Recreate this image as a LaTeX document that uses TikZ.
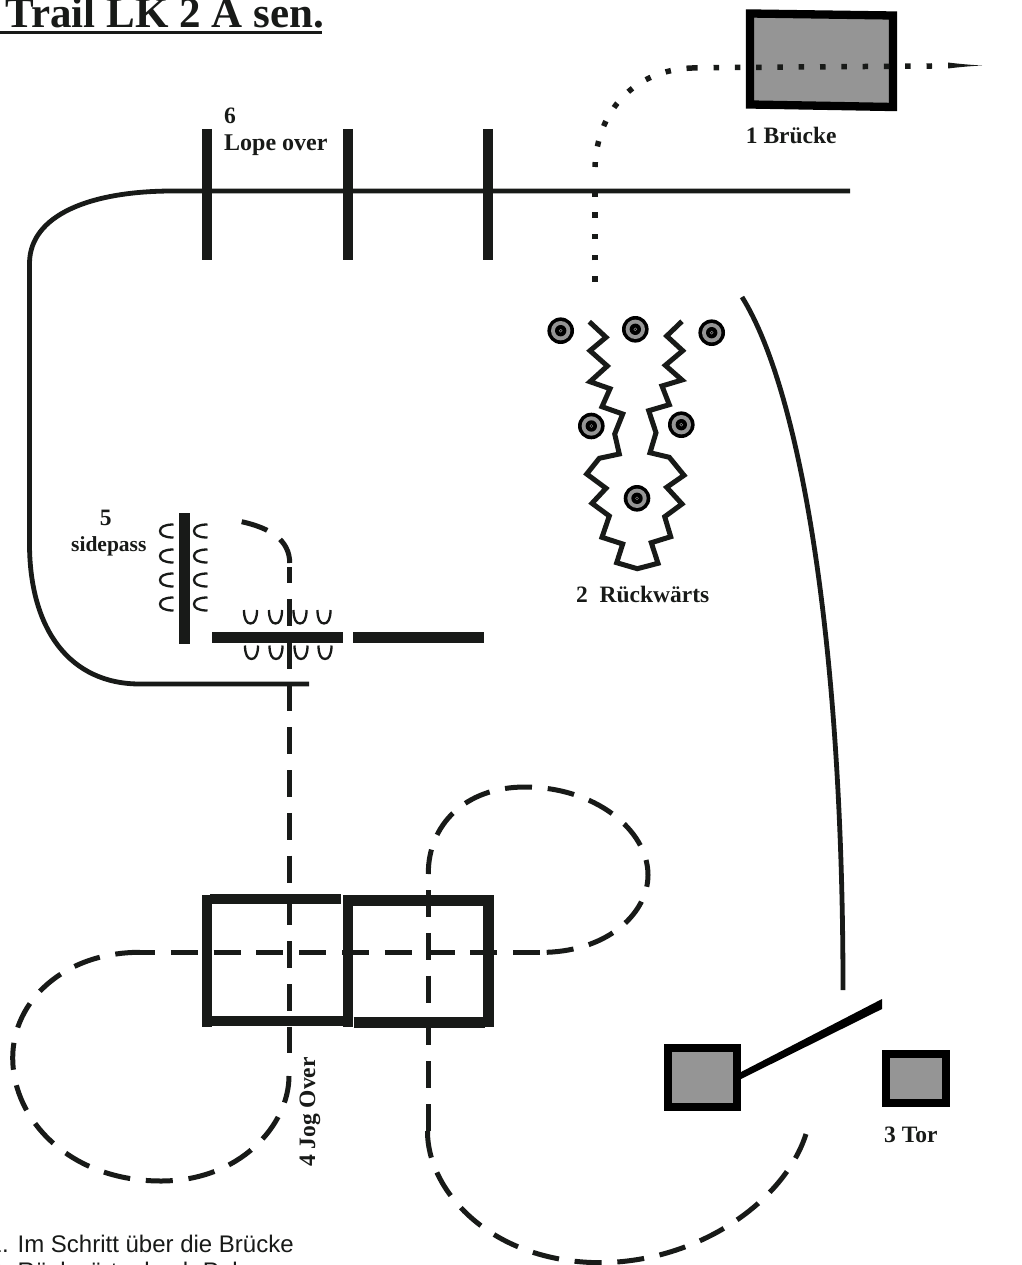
\documentclass[tikz,border=0pt]{standalone}
\usepackage{fontspec}
\setmainfont{Liberation Serif}
\newfontfamily\notefont{Liberation Sans}
\usetikzlibrary{positioning}
\definecolor{trackblack}{HTML}{181A18}
\definecolor{boxgray}{HTML}{959595}
\tikzset{
  lbl/.style={inner sep=0pt, anchor=base west, text=trackblack, font=\fontsize{23.5}{26}\selectfont\bfseries},
  note/.style={inner sep=0pt, anchor=base west, text=trackblack, font=\fontsize{24}{27}\selectfont\notefont},
  pole/.style={line width=10.5pt, trackblack},
  track/.style={line width=4.8pt, trackblack},
  walkdash/.style={line width=5pt, trackblack, dash pattern=on 27pt off 15.8pt},
  walkdot/.style={line width=5.5pt, trackblack, dash pattern=on 5.5pt off 15.8pt},
  hoof/.style={line width=2.3pt, trackblack},
  obstacle/.style={line width=8pt, draw=black, fill=boxgray},
  zigzag/.style={line width=5pt, trackblack, miter limit=10}
}
\newcommand{\hoofshape}{(-6.5,-7) .. controls (-6.5,2) and (-4,6.5) .. (0,6.5) .. controls (4,6.5) and (6.5,2) .. (6.5,-7)}
\begin{document}
\begin{tikzpicture}[x=1pt, y=-1pt]
  \useasboundingbox (0,0) rectangle (1021,1265);
  % title
  \node[lbl, font=\fontsize{43}{46}\selectfont\bfseries] (title) at (5.5,27.3) {Trail LK 2 A sen.};
  \draw[line width=3pt, trackblack] (0,32.3) -- (322,32.3);
  % arena line
  \draw[track] (850,191) -- (173,191) .. controls (90,191) and (30,215) .. (29.5,263) -- (29.5,545) .. controls (30,630) and (70,684) .. (140,684) -- (309,684);
  \draw[track] (742,297) .. controls (800,390) and (843,640) .. (843,990);
  % 1 bridge
  \draw[obstacle, line width=8.3pt] (750,13.5) -- (893,15.5) -- (893,107) -- (750,104.5) -- cycle;
  \node[lbl] (bridge) at (745.7,144) {1 Brücke};
  \draw[walkdot] (932,66) -- (692,67.8);
  \draw[walkdot] (692,68) .. controls (635,70) and (597,110) .. (595,167);
  \draw[walkdot] (595,281.75) -- (595,190);
  \fill[trackblack] (948,62.5) .. controls (960,64) and (972,65) .. (982,65.5) .. controls (972,66) and (960,67) .. (948,68.5) -- cycle;
  % 2 backing through the cones
  \draw[zigzag] (589.3,321.7) -- (606,337.3) -- (590,350.7) -- (607.3,366) -- (590,381.7) -- (610,388.7) -- (602,406.7) -- (622.7,414) -- (614.7,434) -- (619.3,454) -- (599.3,458.3) -- (586.7,474) -- (606,488.3) -- (592,503.3) -- (609.3,516) -- (602,537.3) -- (622.7,544) -- (616.7,562.7) -- (637.3,568.7) -- (658,563.3) -- (651.3,542.7) -- (670.7,536.7) -- (664.7,516.7) -- (682,504) -- (666.7,487.3) -- (684,475.3) -- (669.3,457.3) -- (650,452.7) -- (656,432.7) -- (648.7,410.7) -- (669.3,404.7) -- (662,386) -- (682,380) -- (665.3,365.3) -- (682.7,350.7) -- (666.7,336) -- (682,321.3);
  \foreach \cx/\cy in {560.7/330.7, 635.3/329.3, 711.7/332.7, 591.3/426, 681.3/424.7, 637/498.3} {
    \fill[black] (\cx,\cy) circle[radius=13.3pt];
    \fill[boxgray] (\cx,\cy) circle[radius=9.7pt];
    \fill[black] (\cx,\cy) circle[radius=5.7pt];
    \draw[boxgray, line width=.4pt] (\cx,\cy) circle[radius=1.5pt];
  }
  \node[lbl] (backing) at (576,602.7) {2\ \ Rückwärts};
  % 3 gate
  \draw[obstacle] (668,1048) rectangle (737,1107);
  \draw[obstacle] (886,1054) rectangle (946,1103);
  \fill[black] (741,1072) -- (882,999) -- (882,1009) -- (741,1079) -- cycle;
  \node[lbl] (gate) at (884,1142) {3 Tor};
  % 4 jog over
  \draw[pole] (207,895.3) -- (207,1026.7);
  \draw[pole] (348,895.3) -- (348,1026.7);
  \draw[pole] (488.5,895.3) -- (488.5,1026.7);
  \draw[pole] (210,898.8) -- (341,898.8);
  \draw[pole] (343,900.5) -- (493,900.5);
  \draw[pole] (212,1021.2) -- (353,1021.2);
  \draw[pole] (353.7,1022.5) -- (485,1022.5);
  \node[lbl, rotate=90] (jog) at (315,1167) {4 Jog Over};
  % 5 sidepass
  \draw[pole] (184.3,513.3) -- (184.3,644);
  \draw[pole] (212.3,637.5) -- (343.3,637.5);
  \draw[pole] (353,637.5) -- (484,637.5);
  \foreach \hx/\hy in {250.5/617, 275.5/617, 300/617, 324/617, 251.5/652.5, 276/652.5, 301/652.5, 325/652.5}
    \draw[hoof, shift={(\hx,\hy)}] \hoofshape;
  \foreach \hx/\hy in {166.5/531, 166.5/556, 166.5/580, 166.5/604, 200.5/531, 200.5/556, 200.5/580, 200.5/604}
    \draw[hoof, shift={(\hx,\hy)}, rotate=-90] \hoofshape;
  \node[lbl, anchor=base] (sidefive) at (105.7,525) {5};
  \node[lbl, font=\fontsize{21.5}{24}\selectfont\bfseries] (sidepass) at (71,551.7) {sidepass};
  % 6 lope over
  \draw[pole] (207,129) -- (207,260);
  \draw[pole] (348,129) -- (348,260);
  \draw[pole] (488,129) -- (488,260);
  \node[lbl] (lopesix) at (224,124) {6};
  \node[lbl, font=\fontsize{24}{26}\selectfont\bfseries] (lope) at (224,151) {Lope over};
  % way
  \draw[walkdash] (241.7,521.7) .. controls (270,528) and (289.7,540) .. (289.7,563);
  \draw[walkdash, dash phase=11pt] (289.7,567) -- (289.7,1053);
  \draw[walkdash] (289,1076) .. controls (289,1125) and (240,1181) .. (161,1181) .. controls (70,1181) and (12.7,1120) .. (12.7,1058) .. controls (12.7,1000) and (65,952.3) .. (140,952.3);
  \draw[walkdash] (128,952.3) -- (540,952.3);
  \draw[walkdash] (546.7,952.3) .. controls (610,950) and (648,912) .. (648,875) .. controls (648,830) and (595,787) .. (525,787) .. controls (465,787) and (428,825) .. (428.3,874);
  \draw[walkdash] (428,890) -- (428,1131);
  \draw[walkdash] (427.5,1131) .. controls (427,1190) and (490,1262) .. (600,1262.7) .. controls (700,1262) and (785,1200) .. (806,1134);
  % notes
  \node[note] (noteone) at (-11.5,1252.3) {1. Im Schritt über die Brücke};
  \node[note] (notetwo) at (-11.5,1279.5) {2. Rückwärts durch Pole};
\end{tikzpicture}
\end{document}
